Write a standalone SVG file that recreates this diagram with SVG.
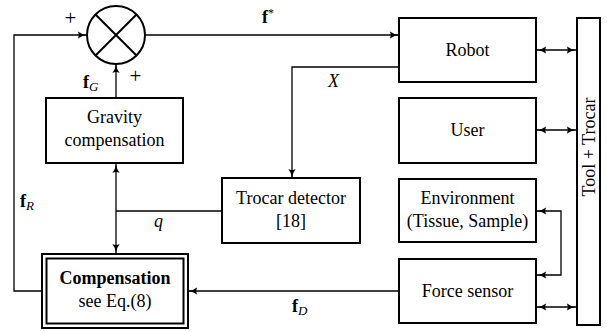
<svg xmlns="http://www.w3.org/2000/svg" width="607" height="332" viewBox="0 0 607 332">
<style>
text{font-family:"Liberation Serif","Times New Roman",serif;font-size:18px;fill:#000}
.c{text-anchor:middle}
.box{fill:#fff;stroke:#000;stroke-width:2}
.ln{fill:none;stroke:#000;stroke-width:1.3}
.b{font-weight:bold}
.i{font-style:italic}
.s{font-size:13px;font-style:italic}
.p{font-size:21px;text-anchor:middle}
</style>
<defs>
<marker id="ah" viewBox="0 0 10 8" refX="10" refY="4" markerWidth="9" markerHeight="7.2" markerUnits="userSpaceOnUse" orient="auto-start-reverse">
<path d="M0,0 Q4,3.2 10,4 Q4,4.8 0,8 Q2,4 0,0 z" fill="#000"/>
</marker>
</defs>
<rect width="607" height="332" fill="#fff"/>
<g id="connectors">
<path class="ln" d="M42,291 H14 V35 H87" marker-end="url(#ah)"/>
<path class="ln" d="M116,98 V64" marker-end="url(#ah)"/>
<path class="ln" d="M145,35 H399" marker-end="url(#ah)"/>
<path class="ln" d="M399,67 H292 V178" marker-end="url(#ah)"/>
<path class="ln" d="M116,164 V253" marker-start="url(#ah)" marker-end="url(#ah)"/>
<path class="ln" d="M222,211 H116"/>
<path class="ln" d="M399,291 H188" marker-end="url(#ah)"/>
<path class="ln" d="M537,50 H576" marker-start="url(#ah)" marker-end="url(#ah)"/>
<path class="ln" d="M537,130 H576" marker-start="url(#ah)" marker-end="url(#ah)"/>
<path class="ln" d="M537,307 H576" marker-start="url(#ah)" marker-end="url(#ah)"/>
<path class="ln" d="M537,211 H561 V275 H537" marker-start="url(#ah)" marker-end="url(#ah)"/>
<text x="70.5" y="24.5" class="p">+</text>
<text x="135.5" y="82.5" class="p">+</text>
<text x="262" y="23"><tspan class="b">f</tspan><tspan dy="-6" font-size="12">*</tspan></text>
<text x="83" y="88"><tspan class="b">f</tspan><tspan class="s" dy="3">G</tspan></text>
<text x="20" y="207"><tspan class="b">f</tspan><tspan class="s" dy="3">R</tspan></text>
<text x="292" y="312"><tspan class="b">f</tspan><tspan class="s" dy="3">D</tspan></text>
<text x="328" y="87" class="i">X</text>
<text x="154" y="227" class="i">q</text>
</g>
<g id="sum">
<circle cx="116" cy="35" r="29" fill="#fff" stroke="#000" stroke-width="2"/>
<path d="M95.5,14.5 L136.5,55.5 M136.5,14.5 L95.5,55.5" stroke="#000" stroke-width="2"/>
</g>
<g id="gravity">
<rect class="box" x="46" y="98" width="137" height="65"/>
<text x="114.5" y="123" class="c">Gravity</text>
<text x="114.5" y="146" class="c">compensation</text>
</g>
<g id="compensation">
<rect x="42" y="254" width="146" height="74" fill="#fff" stroke="#000" stroke-width="2"/>
<rect x="46.5" y="258.5" width="137" height="65" fill="none" stroke="#000" stroke-width="2"/>
<text x="115" y="284" class="c b">Compensation</text>
<text x="115" y="307" class="c">see Eq.(8)</text>
</g>
<g id="trocar-detector">
<rect class="box" x="222" y="178" width="138" height="65"/>
<text x="291" y="204" class="c">Trocar detector</text>
<text x="291" y="227" class="c">[18]</text>
</g>
<g id="robot">
<rect class="box" x="399" y="18" width="137" height="64"/>
<text x="467.5" y="56" class="c">Robot</text>
</g>
<g id="user">
<rect class="box" x="399" y="98" width="137" height="65"/>
<text x="467.5" y="136" class="c">User</text>
</g>
<g id="environment">
<rect class="box" x="399" y="179" width="137" height="63"/>
<text x="467.5" y="204" class="c">Environment</text>
<text x="467.5" y="227" class="c">(Tissue, Sample)</text>
</g>
<g id="force-sensor">
<rect class="box" x="399" y="259" width="137" height="64"/>
<text x="467.5" y="297" class="c">Force sensor</text>
</g>
<g id="tool-trocar">
<rect class="box" x="577" y="18" width="23" height="307"/>
<text x="0" y="0" class="c" transform="translate(594.5,147) rotate(-90)">Tool + Trocar</text>
</g>
</svg>
